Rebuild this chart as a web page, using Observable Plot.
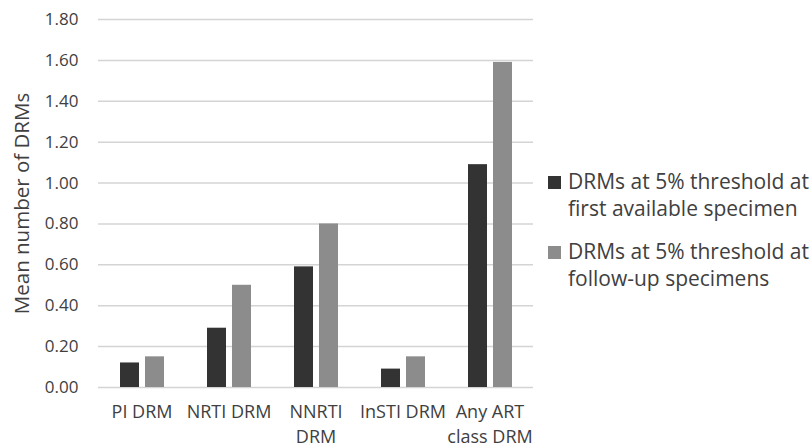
<!DOCTYPE html>
<html><head><meta charset="utf-8">
<script src="https://cdn.jsdelivr.net/npm/d3@7"></script>
<script src="https://cdn.jsdelivr.net/npm/@observablehq/plot@0.6"></script>
<style>
body{margin:0;background:#fff;font-family:"Open Sans",sans-serif;}
#wrap{position:relative;width:812px;height:447px;}
#legend{position:absolute;left:548px;top:168px;color:#404040;font-size:21px;line-height:27px;white-space:nowrap;}
.item{display:flex;align-items:flex-start;margin-bottom:16px;}
.sw{width:13px;height:13px;margin-top:8px;margin-right:7px;flex:none;}
</style></head>
<body><div id="wrap"></div>
<script>
const categories = ["PI DRM","NRTI DRM","NNRTI DRM","InSTI DRM","Any ART class DRM"];
const categoryLabels = ["PI DRM","NRTI DRM","NNRTI\nDRM","InSTI DRM","Any ART\nclass DRM"];
const seriesNames = ["DRMs at 5% threshold at first available specimen","DRMs at 5% threshold at follow-up specimens"];
const seriesLegend = [["DRMs at 5% threshold at","first available specimen"],["DRMs at 5% threshold at","follow-up specimens"]];
const firstSpecimen = [0.12, 0.29, 0.59, 0.09, 1.09];
const followUp = [0.15, 0.50, 0.80, 0.15, 1.59];
const yTicks = [0,0.2,0.4,0.6,0.8,1.0,1.2,1.4,1.6,1.8];
const yLabel = "Mean number of DRMs";
const colors = ["#333333","#8c8c8c"];

const data = [];
categories.forEach((c,i)=>{
  data.push({cat:c, series:seriesNames[0], value:firstSpecimen[i]});
  data.push({cat:c, series:seriesNames[1], value:followUp[i]});
});

const chart = Plot.plot({
  width:812, height:447,
  marginLeft:97, marginRight:279, marginTop:19, marginBottom:60,
  style:{fontFamily:"Open Sans, sans-serif", fontSize:"17px", color:"#404040", background:"#fff"},
  fx:{domain:categories, padding:0},
  x:{domain:seriesNames, paddingInner:0.24, paddingOuter:0.86, axis:null},
  y:{domain:[0,1.8], ticks:yTicks},
  color:{domain:seriesNames, range:colors},
  marks:[
    Plot.ruleY(yTicks, {stroke:"#d4d4d4", strokeWidth:1.5}),
    Plot.barY(data, {fx:"cat", x:"series", y:"value", fill:"series"}),
    Plot.axisY({ticks:yTicks, tickSize:0, tickPadding:20, tickFormat:d=>d.toFixed(2), label:null, fontSize:17, fill:"#404040"}),
    Plot.text([yLabel], {facet:"super", frameAnchor:"left", textAnchor:"middle", rotate:-90, dx:-76, fontSize:20.5, fill:"#404040"}),
    Plot.axisFx({anchor:"bottom", tickSize:0, tickPadding:12, label:null, tickFormat:d=>categoryLabels[categories.indexOf(d)], lineHeight:1.42, fontSize:18, fill:"#404040"})
  ]
});
const wrap = document.getElementById("wrap");
wrap.appendChild(chart);
const lg = document.createElement("div");
lg.id="legend";
seriesLegend.forEach((lines,i)=>{
  const it=document.createElement("div");it.className="item";
  const sw=document.createElement("div");sw.className="sw";sw.style.background=colors[i];
  const tx=document.createElement("div");tx.innerHTML=lines.join("<br>");
  it.appendChild(sw);it.appendChild(tx);lg.appendChild(it);
});
wrap.appendChild(lg);
</script></body></html>
